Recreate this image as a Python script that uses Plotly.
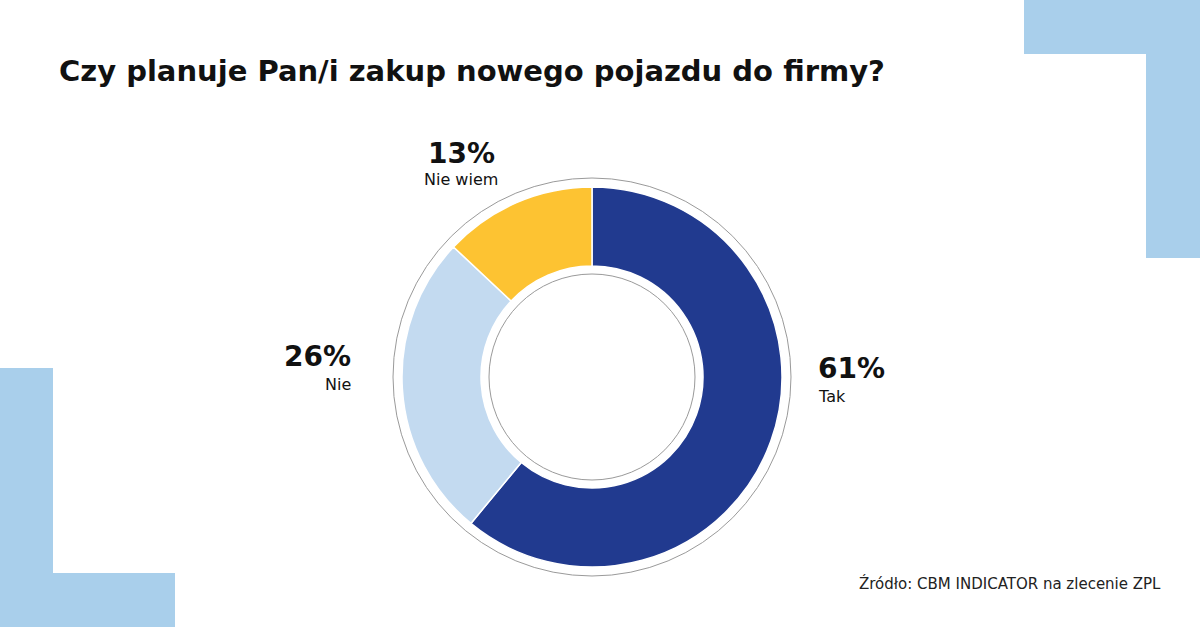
import plotly.graph_objects as go

W, H = 1200, 627

labels = ["Tak", "Nie", "Nie wiem"]
values = [61, 26, 13]
colors = ["#213A8F", "#C3DAF0", "#FDC332"]

TITLE = "Czy planuje Pan/i zakup nowego pojazdu do firmy?"
SOURCE = "Źródło: CBM INDICATOR na zlecenie ZPL"
DECO = "#A9CFEB"

# donut geometry in pixels (from top-left)
cx, cy = 592, 377
r_out, r_in = 190, 111
r_ring_out, r_ring_in = 199, 103


def px(x):
    return x / W


def py(y):
    return 1 - y / H


fig = go.Figure()
fig.add_trace(go.Pie(
    labels=labels, values=values, sort=False, direction="clockwise", rotation=0,
    hole=r_in / r_out, textinfo="none", hoverinfo="label+percent",
    marker=dict(colors=colors, line=dict(color="white", width=1.5)),
    domain=dict(x=[px(cx - r_out), px(cx + r_out)], y=[py(cy + r_out), py(cy - r_out)]),
    showlegend=False,
))

shapes = []
# corner decorations
for x0, y0, x1, y1 in [(1024, 0, 1200, 54), (1146, 0, 1200, 258),
                       (0, 368, 53, 627), (0, 573, 175, 627)]:
    shapes.append(dict(type="rect", xref="paper", yref="paper",
                       x0=px(x0), x1=px(x1), y0=py(y1), y1=py(y0),
                       fillcolor=DECO, line=dict(width=0), layer="below"))
# thin grey rings around the donut
for r in (r_ring_out, r_ring_in):
    shapes.append(dict(type="circle", xref="paper", yref="paper",
                       x0=px(cx - r), x1=px(cx + r), y0=py(cy + r), y1=py(cy - r),
                       line=dict(color="#9A9A9A", width=1)))

FONT = "DejaVu Sans"
ann = []
ann.append(dict(text="<b>" + TITLE + "</b>", x=px(57), y=py(71), xanchor="left", yanchor="middle",
                font=dict(size=29, color="#111111", family=FONT)))
# slice labels: (percent, name, x, y_pct, y_name, anchor)
pct_labels = [("61%", "Tak", 816, 368, 396, "left"),
              ("26%", "Nie", 353, 356, 384, "right"),
              ("13%", "Nie wiem", 461, 153, 180, "center")]
for pct, name, x, yp, yn, anchor in pct_labels:
    ann.append(dict(text="<b>" + pct + "</b>", x=px(x), y=py(yp), xanchor=anchor, yanchor="middle",
                    font=dict(size=28, color="#111111", family=FONT)))
    ann.append(dict(text=name, x=px(x), y=py(yn), xanchor=anchor, yanchor="middle",
                    font=dict(size=16, color="#111111", family=FONT)))
ann.append(dict(text=SOURCE, x=px(1163), y=py(583), xanchor="right", yanchor="middle",
                font=dict(size=15, color="#222222", family=FONT)))
for a in ann:
    a.update(xref="paper", yref="paper", showarrow=False)

fig.update_layout(
    width=W, height=H, margin=dict(l=0, r=0, t=0, b=0),
    paper_bgcolor="white", plot_bgcolor="white",
    shapes=shapes, annotations=ann,
)

fig.write_html("out.html", config={"displayModeBar": False},
               post_script="document.body.style.margin='0';")
